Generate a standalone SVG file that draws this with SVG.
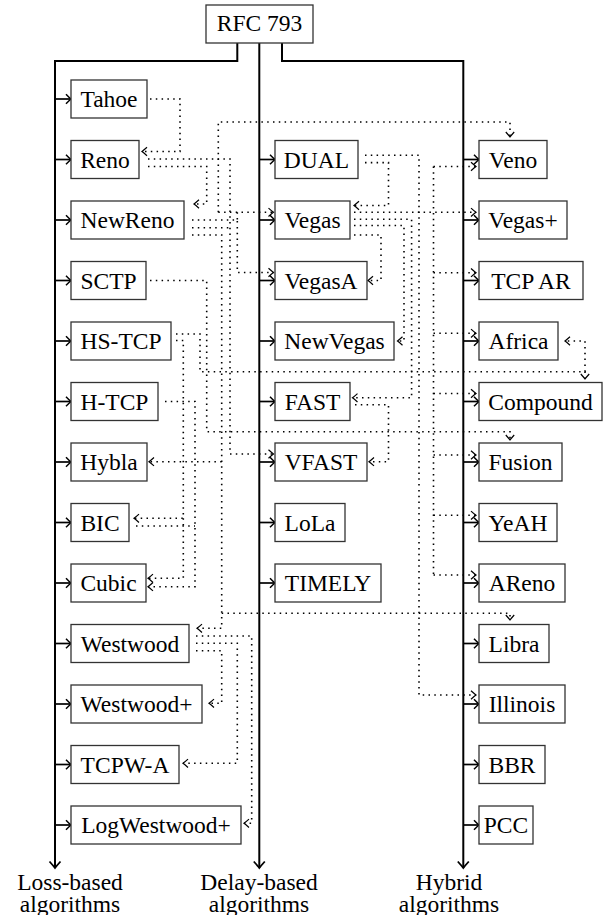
<svg xmlns="http://www.w3.org/2000/svg" width="603" height="915" viewBox="0 0 603 915">
<defs>
<style>
.b{fill:#fff;stroke:#333;stroke-width:1.3}
.t{font-family:"Liberation Serif","Times New Roman",serif;font-size:23.5px;text-anchor:middle;fill:#000}
.tr{fill:none;stroke:#000;stroke-width:2}
.br{fill:none;stroke:#000;stroke-width:1.7;marker-end:url(#as)}
.d{fill:none;stroke:#000;stroke-width:1.6;stroke-dasharray:1.5 4.3}
.da{fill:none;stroke:#000;stroke-width:1.6;stroke-dasharray:1.5 4.3;marker-end:url(#ad)}
</style>
<marker id="as" viewBox="-8 -7 10 14" refX="0" refY="0" markerWidth="10" markerHeight="14" orient="auto" markerUnits="userSpaceOnUse"><path d="M-5,-4.8 Q-1.4,-1.1 0,0 Q-1.4,1.1 -5,4.8" fill="none" stroke="#000" stroke-width="1.5" stroke-dasharray="none"/></marker>
<marker id="ad" viewBox="-8 -7 10 14" refX="0" refY="0" markerWidth="10" markerHeight="14" orient="auto" markerUnits="userSpaceOnUse"><path d="M-5,-4.2 Q-1.4,-1 0,0 Q-1.4,1 -5,4.2" fill="none" stroke="#000" stroke-width="1.2" stroke-dasharray="none"/></marker>
<marker id="at" viewBox="-9 -8 11 16" refX="0" refY="0" markerWidth="11" markerHeight="16" orient="auto" markerUnits="userSpaceOnUse"><path d="M-6.5,-5.5 Q-1.6,-1.2 0,0 Q-1.6,1.2 -6.5,5.5" fill="none" stroke="#000" stroke-width="1.8" stroke-dasharray="none"/></marker>
</defs>

<g id="trunks">
<path class="tr" d="M237.3,43 V61 H55 V868" marker-end="url(#at)"/>
<path class="tr" d="M259.3,43 V868" marker-end="url(#at)"/>
<path class="tr" d="M282,43 V61 H463.3 V868" marker-end="url(#at)"/>
</g>

<g id="branches">
<path class="br" d="M55,99 H71"/>
<path class="br" d="M55,159.5 H71"/>
<path class="br" d="M55,220 H71"/>
<path class="br" d="M55,280.5 H71"/>
<path class="br" d="M55,341 H71"/>
<path class="br" d="M55,401.5 H71"/>
<path class="br" d="M55,462 H71"/>
<path class="br" d="M55,522.5 H71"/>
<path class="br" d="M55,583 H71"/>
<path class="br" d="M55,643.5 H71"/>
<path class="br" d="M55,704 H71"/>
<path class="br" d="M55,764.5 H71"/>
<path class="br" d="M55,825 H71"/>
<path class="br" d="M259.3,159.5 H275"/>
<path class="br" d="M259.3,220 H275"/>
<path class="br" d="M259.3,280.5 H275"/>
<path class="br" d="M259.3,341 H275"/>
<path class="br" d="M259.3,401.5 H275"/>
<path class="br" d="M259.3,462 H275"/>
<path class="br" d="M259.3,522.5 H275"/>
<path class="br" d="M259.3,583 H275"/>
<path class="br" d="M463.3,159.5 H479"/>
<path class="br" d="M463.3,220 H479"/>
<path class="br" d="M463.3,280.5 H479"/>
<path class="br" d="M463.3,341 H479"/>
<path class="br" d="M463.3,401.5 H479"/>
<path class="br" d="M463.3,462 H479"/>
<path class="br" d="M463.3,522.5 H479"/>
<path class="br" d="M463.3,583 H479"/>
<path class="br" d="M463.3,643.5 H479"/>
<path class="br" d="M463.3,704 H479"/>
<path class="br" d="M463.3,764.5 H479"/>
<path class="br" d="M463.3,825 H479"/>
</g>

<g id="connectors">
<path class="da" d="M150,99 H180 V151.5 H142"/>
<path class="da" d="M148,166.5 H206.7 V204 H194"/>
<path class="da" d="M148,159 H230 V454 H273.5"/>
<path class="da" d="M218.3,212.3 V122 H510 V137"/>
<path class="da" d="M218.3,212.3 H273.5"/>
<path class="da" d="M192,220 H237.3 V272.5 H273.5"/>
<path class="d" d="M237.3,212.3 V220"/>
<path class="d" d="M192,227.7 H230"/>
<path class="da" d="M192,235 H221.7 V628.3 H197"/>
<path class="da" d="M221.7,461.7 H149"/>
<path class="da" d="M221.7,613.3 H510 V620"/>
<path class="da" d="M150,280.5 H206.7 V431.7 H510 V440"/>
<path class="da" d="M176,334 H200 V371.7 H585 V379"/>
<path class="da" d="M585,371.7 V341 H565"/>
<path class="da" d="M176,340.5 H183.3 V518.3 H134"/>
<path class="da" d="M183.3,518.3 V578.3 H148"/>
<path class="da" d="M165,401.5 H195 V586.7 H148"/>
<path class="d" d="M136,526 H195"/>
<path class="da" d="M196,636 H251.7 V823.3 H244"/>
<path class="da" d="M196,643.3 H237.3 V763.3 H183"/>
<path class="da" d="M196,650.7 H221.7 V703.3 H209"/>
<path class="da" d="M365,155.3 H419 V695 H476"/>
<path class="da" d="M365,162.6 H388.5 V205.5 H354"/>
<path class="da" d="M354,212.3 H476"/>
<path class="da" d="M354,219.3 H411.6 V397.8 H352.5"/>
<path class="da" d="M354,225.5 H404 V341 H397.5"/>
<path class="da" d="M354,235 H381 V280.5 H368"/>
<path class="da" d="M355,404.8 H388.5 V461.7 H369"/>
<path class="d" d="M433.5,166.5 V575"/>
<path class="da" d="M433.5,166.5 H476"/>
<path class="da" d="M433.5,272.7 H476"/>
<path class="da" d="M433.5,333.3 H476"/>
<path class="da" d="M433.5,393.5 H476"/>
<path class="da" d="M433.5,455 H476"/>
<path class="da" d="M433.5,515.3 H476"/>
<path class="da" d="M433.5,575 H476"/>
</g>

<g id="n-rfc793"><rect class="b" x="206" y="5" width="107" height="38"/><text class="t" x="259.5" y="31">RFC 793</text></g>

<g id="n-tahoe"><rect class="b" x="71" y="80" width="76" height="38"/><text class="t" x="109" y="107">Tahoe</text></g>
<g id="n-reno"><rect class="b" x="71" y="140.5" width="68" height="38"/><text class="t" x="105" y="167.5">Reno</text></g>
<g id="n-newreno"><rect class="b" x="71" y="201" width="113" height="38"/><text class="t" x="127.5" y="228">NewReno</text></g>
<g id="n-sctp"><rect class="b" x="71" y="261.5" width="75" height="38"/><text class="t" x="108.5" y="288.5">SCTP</text></g>
<g id="n-hstcp"><rect class="b" x="71" y="322" width="100" height="38"/><text class="t" x="121" y="349">HS-TCP</text></g>
<g id="n-htcp"><rect class="b" x="71" y="382.5" width="87" height="38"/><text class="t" x="114.5" y="409.5">H-TCP</text></g>
<g id="n-hybla"><rect class="b" x="71" y="443" width="76" height="38"/><text class="t" x="109" y="470">Hybla</text></g>
<g id="n-bic"><rect class="b" x="71" y="503.5" width="58" height="38"/><text class="t" x="100" y="530.5">BIC</text></g>
<g id="n-cubic"><rect class="b" x="71" y="564" width="75" height="38"/><text class="t" x="108.5" y="591">Cubic</text></g>
<g id="n-westwood"><rect class="b" x="71" y="624.5" width="118" height="38"/><text class="t" x="130" y="651.5">Westwood</text></g>
<g id="n-westwoodplus"><rect class="b" x="71" y="685" width="131" height="38"/><text class="t" x="136.5" y="712">Westwood+</text></g>
<g id="n-tcpwa"><rect class="b" x="71" y="745.5" width="108" height="38"/><text class="t" x="125" y="772.5">TCPW-A</text></g>
<g id="n-logwestwood"><rect class="b" x="71" y="806" width="170" height="38"/><text class="t" x="156" y="833">LogWestwood+</text></g>

<g id="n-dual"><rect class="b" x="275" y="140.5" width="83" height="38"/><text class="t" x="316.5" y="167.5">DUAL</text></g>
<g id="n-vegas"><rect class="b" x="275" y="201" width="75" height="38"/><text class="t" x="312.5" y="228">Vegas</text></g>
<g id="n-vegasa"><rect class="b" x="275" y="261.5" width="92" height="38"/><text class="t" x="321" y="288.5">VegasA</text></g>
<g id="n-newvegas"><rect class="b" x="275" y="322" width="119" height="38"/><text class="t" x="334.5" y="349">NewVegas</text></g>
<g id="n-fast"><rect class="b" x="275" y="382.5" width="75" height="38"/><text class="t" x="312.5" y="409.5">FAST</text></g>
<g id="n-vfast"><rect class="b" x="275" y="443" width="92" height="38"/><text class="t" x="321" y="470">VFAST</text></g>
<g id="n-lola"><rect class="b" x="275" y="503.5" width="70" height="38"/><text class="t" x="310" y="530.5">LoLa</text></g>
<g id="n-timely"><rect class="b" x="275" y="564" width="106" height="38"/><text class="t" x="328" y="591">TIMELY</text></g>

<g id="n-veno"><rect class="b" x="479" y="140.5" width="68" height="38"/><text class="t" x="513" y="167.5">Veno</text></g>
<g id="n-vegasplus"><rect class="b" x="479" y="201" width="88" height="38"/><text class="t" x="523" y="228">Vegas+</text></g>
<g id="n-tcpar"><rect class="b" x="479" y="261.5" width="104" height="38"/><text class="t" x="531" y="288.5">TCP AR</text></g>
<g id="n-africa"><rect class="b" x="479" y="322" width="79" height="38"/><text class="t" x="518.5" y="349">Africa</text></g>
<g id="n-compound"><rect class="b" x="479" y="382.5" width="123" height="38"/><text class="t" x="540.5" y="409.5">Compound</text></g>
<g id="n-fusion"><rect class="b" x="479" y="443" width="83" height="38"/><text class="t" x="520.5" y="470">Fusion</text></g>
<g id="n-yeah"><rect class="b" x="479" y="503.5" width="78" height="38"/><text class="t" x="518" y="530.5">YeAH</text></g>
<g id="n-areno"><rect class="b" x="479" y="564" width="86" height="38"/><text class="t" x="522" y="591">AReno</text></g>
<g id="n-libra"><rect class="b" x="479" y="624.5" width="70" height="38"/><text class="t" x="514" y="651.5">Libra</text></g>
<g id="n-illinois"><rect class="b" x="479" y="685" width="86" height="38"/><text class="t" x="522" y="712">Illinois</text></g>
<g id="n-bbr"><rect class="b" x="479" y="745.5" width="66" height="38"/><text class="t" x="512" y="772.5">BBR</text></g>
<g id="n-pcc"><rect class="b" x="479" y="806" width="54" height="38"/><text class="t" x="506" y="833">PCC</text></g>

<g id="labels">
<text class="t" x="70" y="890">Loss-based</text><text class="t" x="70" y="912">algorithms</text>
<text class="t" x="259" y="890">Delay-based</text><text class="t" x="259" y="912">algorithms</text>
<text class="t" x="449" y="890">Hybrid</text><text class="t" x="449" y="912">algorithms</text>
</g>
</svg>
